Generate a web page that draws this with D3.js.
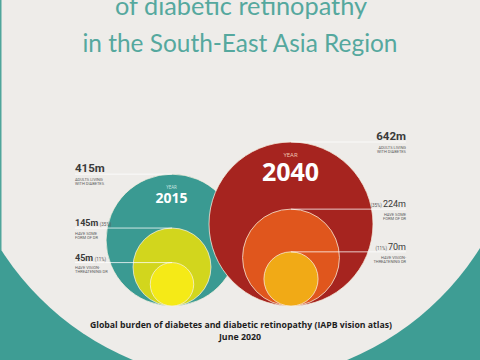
<!DOCTYPE html>
<html><head><meta charset="utf-8">
<script src="https://cdn.jsdelivr.net/npm/d3@7"></script>
<style>html,body{margin:0;padding:0;background:#eeece9;}svg{display:block;}</style>
</head><body>
<script>
// ---- data ----
const years = ["2015", "2040"];
const diabetes = [415, 642];          // millions of adults living with diabetes
const anyDR = [145, 224];             // millions with some form of DR
const vtDR = [45, 70];                // millions with vision-threatening DR
const anyDRPct = ["35%", "35%"];
const vtDRPct = ["11%", "11%"];
const diabetesText = ["ADULTS LIVING", "WITH DIABETES"];
const anyDRText = ["HAVE SOME", "FORM OF DR"];
const vtDRText = ["HAVE VISION-", "THREATENING DR"];
const titleLines = ["of diabetic retinopathy", "in the South-East Asia Region"];
const captionLines = ["Global burden of diabetes and diabetic retinopathy (IAPB vision atlas)", "June 2020"];

const W = 480, H = 360;
const svg = d3.select("body").append("svg").attr("width", W).attr("height", H);

// background
svg.append("rect").attr("width", W).attr("height", H).attr("fill", "#3e9d94");
svg.append("circle").attr("cx", 240).attr("cy", 98).attr("r", 283).attr("fill", "#eeece9");
svg.append("rect").attr("x", 0).attr("y", 0).attr("width", 1.5).attr("height", 250).attr("fill", "#4fa59b");

// title
const titleFont = "Lato, 'Open Sans', sans-serif";
svg.append("text").attr("x", 241).attr("y", 15).attr("text-anchor", "middle")
  .attr("font-family", titleFont).attr("font-weight", 400).attr("font-size", 25)
  .attr("fill", "#55a89e").attr("textLength", 252).attr("lengthAdjust", "spacingAndGlyphs")
  .text(titleLines[0]);
svg.append("text").attr("x", 240).attr("y", 52).attr("text-anchor", "middle")
  .attr("font-family", titleFont).attr("font-weight", 400).attr("font-size", 25)
  .attr("fill", "#55a89e").attr("textLength", 315).attr("lengthAdjust", "spacingAndGlyphs")
  .text(titleLines[1]);

// scales
const r = d3.scaleSqrt().domain([0, d3.max(diabetes)]).range([0, 82]);
const cx = d3.scalePoint().domain(years).range([172, 291]);
const baseY = 306;
const colors = [
  ["#3a9a92", "#d2d61d", "#f5ea17"],
  ["#a6241f", "#e0561d", "#f1aa16"]
];

const labelFont = "'Liberation Sans Narrow', 'Roboto', sans-serif";
const numColor = "#3a3a3a", subColor = "#5a5a5a";

years.forEach((yr, i) => {
  const g = svg.append("g");
  const x = cx(yr);
  const vals = [diabetes[i], anyDR[i], vtDR[i]];
  vals.forEach((v, k) => {
    g.append("circle").attr("cx", x).attr("cy", baseY - r(v)).attr("r", r(v))
      .attr("fill", colors[i][k]).attr("stroke", "#f6efe0").attr("stroke-opacity", 0.85)
      .attr("stroke-width", 0.9);
  });
  // year label
  const yearSize = i === 0 ? 14 : 25;
  const yearSmall = i === 0 ? 4.5 : 6;
  const yearBase = i === 0 ? 203 : 180.5;
  const smallBase = i === 0 ? 188.5 : 156.5;
  g.append("text").attr("x", x - 0.5).attr("y", smallBase)
    .attr("text-anchor", "middle").attr("font-family", "'Open Sans', sans-serif")
    .attr("font-size", yearSmall).attr("fill", i === 0 ? "#cfe7e2" : "#f1c9b5").text("YEAR");
  g.append("text").attr("x", x - 0.5).attr("y", yearBase).attr("text-anchor", "middle")
    .attr("font-family", "'Open Sans', sans-serif").attr("font-weight", 700)
    .attr("font-size", yearSize).attr("fill", "#ffffff").text(yr);

  // leader lines + labels
  const left = i === 0;
  const lx = left ? 75 : 406;
  const anchor = left ? "start" : "end";
  const items = [
    {v: diabetes[i], pct: null, sub: diabetesText, big: true},
    {v: anyDR[i], pct: anyDRPct[i], sub: anyDRText, big: false},
    {v: vtDR[i], pct: vtDRPct[i], sub: vtDRText, big: false}
  ];
  items.forEach(it => {
    const ly = baseY - 2 * r(it.v);
    svg.append("line").attr("x1", lx).attr("x2", x).attr("y1", ly).attr("y2", ly)
      .attr("stroke", "#ffffff").attr("stroke-opacity", 0.85).attr("stroke-width", 0.9);
    const t = svg.append("text").attr("x", lx).attr("y", ly - 1.8).attr("text-anchor", anchor)
      .attr("font-family", labelFont).attr("fill", numColor);
    const numSize = it.big ? 11.5 : 9;
    const numWeight = it.big ? 700 : (left ? 700 : 400);
    const pctTxt = it.pct ? "(" + it.pct + ")" : null;
    if (left) {
      t.append("tspan").attr("font-size", numSize).attr("font-weight", numWeight).text(it.v + "m");
      if (pctTxt) t.append("tspan").attr("font-size", 4.5).attr("dx", 1.5).attr("fill", subColor).text(pctTxt);
    } else {
      if (pctTxt) t.append("tspan").attr("font-size", 4.5).attr("fill", subColor).text(pctTxt);
      t.append("tspan").attr("font-size", numSize).attr("font-weight", numWeight).attr("dx", pctTxt ? 1 : 0).text(it.v + "m");
    }
    it.sub.forEach((s, j) => {
      svg.append("text").attr("x", lx).attr("y", ly + 6.8 + j * 4).attr("text-anchor", anchor)
        .attr("font-family", labelFont).attr("font-size", 4).attr("fill", subColor).text(s);
    });
  });
});

// caption
svg.append("text").attr("x", 241).attr("y", 327.5).attr("text-anchor", "middle")
  .attr("font-family", "'Open Sans', sans-serif").attr("font-weight", 700).attr("font-size", 8.8)
  .attr("fill", "#1e1e1e").attr("textLength", 302).attr("lengthAdjust", "spacingAndGlyphs")
  .text(captionLines[0]);
svg.append("text").attr("x", 240).attr("y", 339.5).attr("text-anchor", "middle")
  .attr("font-family", "'Open Sans', sans-serif").attr("font-weight", 700).attr("font-size", 8.8)
  .attr("fill", "#1e1e1e").text(captionLines[1]);
</script>
</body></html>
